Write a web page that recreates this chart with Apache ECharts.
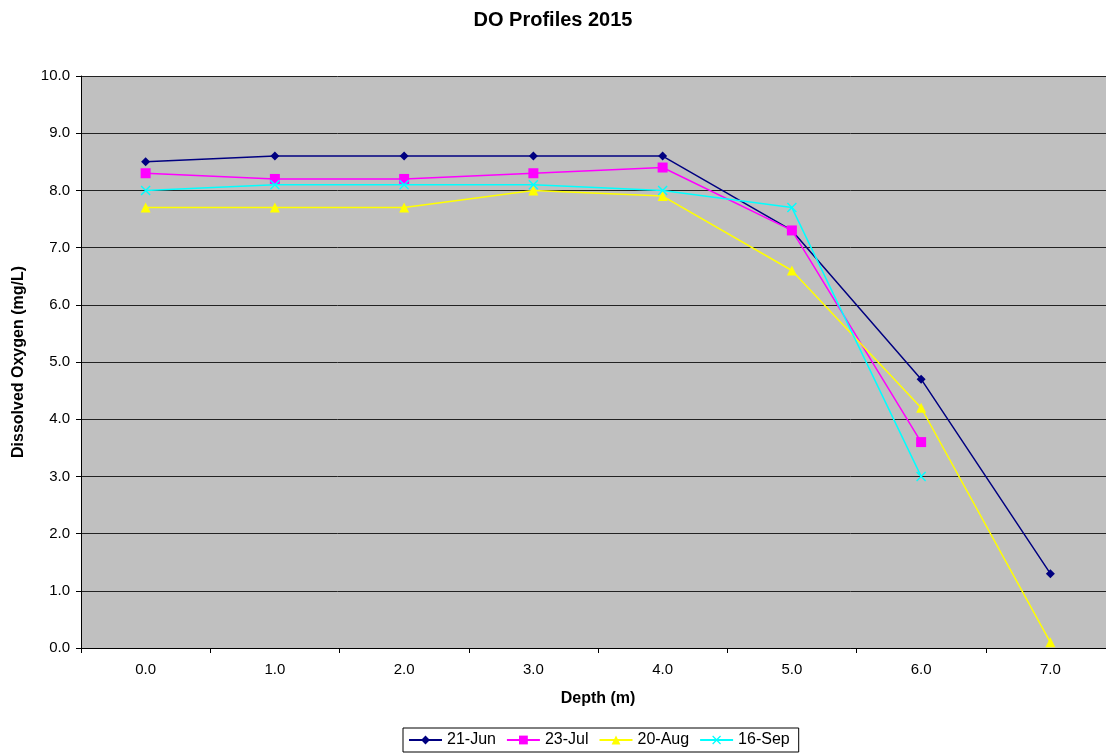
<!DOCTYPE html>
<html>
<head>
<meta charset="utf-8">
<script src="https://cdn.jsdelivr.net/npm/echarts@6/dist/echarts.min.js"></script>
<style>
  html, body { margin: 0; padding: 0; background: #fff; }
  #chart { width: 1106px; height: 755px; }
</style>
</head>
<body>
<div id="chart"></div>
<script>
const depths = ['0.0', '1.0', '2.0', '3.0', '4.0', '5.0', '6.0', '7.0'];
const jun21 = [8.5, 8.6, 8.6, 8.6, 8.6, 7.3, 4.7, 1.3];
const jul23 = [8.3, 8.2, 8.2, 8.3, 8.4, 7.3, 3.6, null];
const aug20 = [7.7, 7.7, 7.7, 8.0, 7.9, 6.6, 4.2, 0.1];
const sep16 = [8.0, 8.1, 8.1, 8.1, 8.0, 7.7, 3.0, null];

// X-shaped marker for the last series
const crossPath = 'path://M0,1L1,0L5,4L9,0L10,1L6,5L10,9L9,10L5,6L1,10L0,9L4,5Z';
const font = 'Liberation Sans, Arial, sans-serif';

const chart = echarts.init(document.getElementById('chart'));

function mkSeries(name, data, color, symbol, size) {
  return {
    name: name,
    type: 'line',
    data: data,
    symbol: symbol,
    symbolSize: size,
    showSymbol: true,
    connectNulls: false,
    lineStyle: { color: color, width: 1.5 },
    itemStyle: { color: color },
    emphasis: { disabled: true }
  };
}

chart.setOption({
  animation: false,
  textStyle: { fontFamily: font },
  title: {
    text: 'DO Profiles 2015',
    left: 'center',
    top: 5,
    textStyle: { fontSize: 20, fontWeight: 'bold', color: '#000', fontFamily: font }
  },
  grid: {
    left: 81,
    top: 76,
    width: 1034,
    bottom: 107,
    outerBoundsMode: 'none',
    containLabel: false,
    show: true,
    backgroundColor: '#c0c0c0',
    borderWidth: 0
  },
  legend: {
    bottom: 3,
    left: 403,
    padding: [4, 9, 4, 5],
    borderColor: '#000',
    borderWidth: 1,
    borderRadius: 0,
    itemWidth: 33,
    itemHeight: 11,
    itemGap: 10,
    textStyle: { fontSize: 16, color: '#000', fontFamily: font },
    data: ['21-Jun', '23-Jul', '20-Aug', '16-Sep']
  },
  xAxis: {
    type: 'category',
    data: depths,
    boundaryGap: true,
    name: 'Depth (m)',
    nameLocation: 'middle',
    nameGap: 43,
    nameTextStyle: { fontSize: 16, fontWeight: 'bold', color: '#000' },
    axisLine: { lineStyle: { color: '#000', width: 1 } },
    axisTick: { show: true, inside: false, length: 5, lineStyle: { color: '#000' } },
    axisLabel: { fontSize: 15, color: '#000', margin: 14 },
    splitLine: { show: false }
  },
  yAxis: {
    type: 'value',
    min: 0,
    max: 10,
    interval: 1,
    name: 'Dissolved Oxygen (mg/L)',
    nameLocation: 'middle',
    nameGap: 54,
    nameTextStyle: { fontSize: 16, fontWeight: 'bold', color: '#000' },
    axisLine: { show: true, lineStyle: { color: '#000', width: 1 } },
    axisTick: { show: true, inside: false, length: 5, lineStyle: { color: '#000' } },
    axisLabel: {
      fontSize: 15,
      color: '#000',
      margin: 11,
      formatter: v => v.toFixed(1)
    },
    splitLine: { show: true, lineStyle: { color: '#222', width: 1 } }
  },
  series: [
    mkSeries('21-Jun', jun21, '#000080', 'diamond', 9),
    mkSeries('23-Jul', jul23, '#ff00ff', 'rect', 10),
    mkSeries('20-Aug', aug20, '#ffff00', 'triangle', 10),
    mkSeries('16-Sep', sep16, '#00ffff', crossPath, 10)
  ]
});
</script>
</body>
</html>
